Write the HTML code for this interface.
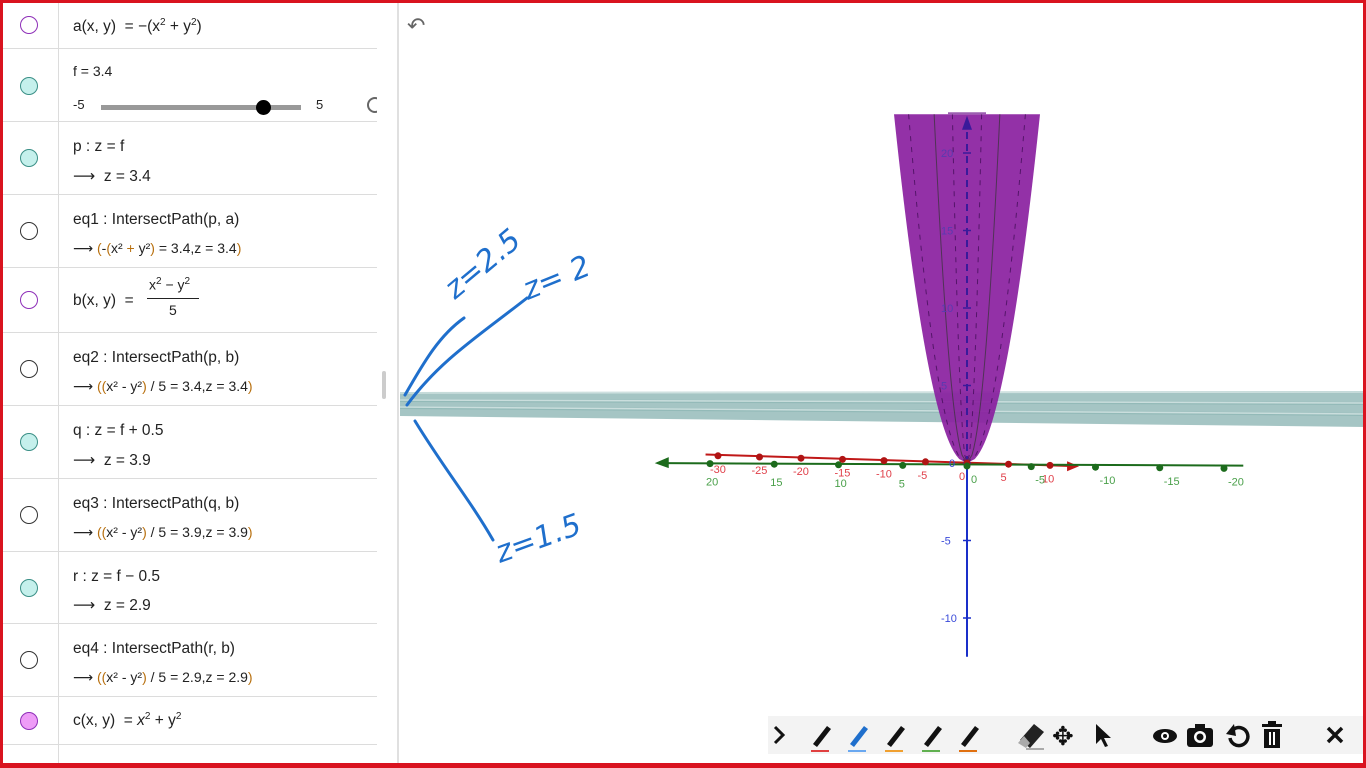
<!DOCTYPE html>
<html><head><meta charset="utf-8">
<style>
html,body{margin:0;padding:0;width:1366px;height:768px;overflow:hidden;background:#fff;font-family:"Liberation Sans","DejaVu Sans",sans-serif;}
#frame{position:absolute;left:0;top:0;width:1366px;height:768px;box-sizing:border-box;border:3px solid #d9131f;border-bottom-width:5px;z-index:5;pointer-events:none;}
#algebra{position:absolute;left:3px;top:3px;width:374px;height:760px;overflow:hidden;}
.row{position:absolute;left:0;width:374px;border-bottom:1px solid #dcdcdc;box-sizing:border-box;}
.iconcol{position:absolute;left:0;top:0;bottom:0;width:55px;border-right:1px solid #dcdcdc;}
.dot{position:absolute;left:17px;width:18px;height:18px;border-radius:50%;box-sizing:border-box;border:1.3px solid #333;}
.t{position:absolute;left:70px;font-size:15.5px;color:#222;white-space:nowrap;}
.o{color:#b8700f}
sup{font-size:10px;}
#divider{position:absolute;left:397px;top:3px;width:2px;height:760px;background:#e0e0e0;}
#graphics{position:absolute;left:0;top:0;}
#toolbar{position:absolute;left:768px;top:716px;width:596px;height:38px;background:#f3f3f3;}
</style></head><body>
<div id="frame"></div>
<div id="algebra">
 <div class="row" style="top:0;height:46px"><div class="iconcol"></div><div class="dot" style="top:13px;border-color:#8e2fb8"></div><div class="t" style="top:14px">a(x, y) &nbsp;= −(x<sup>2</sup> + y<sup>2</sup>)</div></div>
 <div class="row" style="top:46px;height:73px"><div class="iconcol"></div><div class="dot" style="top:28px;background:#c5f0ec;border-color:#3a8f86"></div><div class="t" style="top:14px;font-size:14px">f = 3.4</div>
  <div class="t" style="top:48px;font-size:13px">-5</div>
  <div style="position:absolute;left:98px;top:56px;width:200px;height:5px;background:#999"></div>
  <div style="position:absolute;left:253px;top:51px;width:15px;height:15px;border-radius:50%;background:#000"></div>
  <div class="t" style="top:48px;left:313px;font-size:13px">5</div>
  <div style="position:absolute;left:364px;top:48px;width:16px;height:16px;border-radius:50%;border:2px solid #666;box-sizing:border-box"></div></div>
 <div class="row" style="top:119px;height:73px"><div class="iconcol"></div><div class="dot" style="top:27px;background:#c5f0ec;border-color:#3a8f86"></div><div class="t" style="top:16px">p : z = f</div><div class="t" style="top:45px">⟶ &nbsp;z = 3.4</div></div>
 <div class="row" style="top:192px;height:73px"><div class="iconcol"></div><div class="dot" style="top:27px"></div><div class="t" style="top:16px">eq1 : IntersectPath(p, a)</div><div class="t" style="top:45px;font-size:14px">⟶ <span class="o">(</span>-<span class="o">(</span>x² <span class="o">+</span> y²<span class="o">)</span> = 3.4,z = 3.4<span class="o">)</span></div></div>
 <div class="row" style="top:265px;height:65px"><div class="iconcol"></div><div class="dot" style="top:23px;border-color:#8e2fb8"></div><div class="t" style="top:24px">b(x, y) &nbsp;=</div>
  <div class="t" style="left:146px;top:8px;font-size:14px">x<sup>2</sup> − y<sup>2</sup></div><div style="position:absolute;left:144px;top:30px;width:52px;height:1px;background:#222"></div><div class="t" style="left:166px;top:34px;font-size:14px">5</div></div>
 <div class="row" style="top:330px;height:73px"><div class="iconcol"></div><div class="dot" style="top:27px"></div><div class="t" style="top:16px">eq2 : IntersectPath(p, b)</div><div class="t" style="top:45px;font-size:14px">⟶ <span class="o">((</span>x² - y²<span class="o">)</span> / 5 = 3.4,z = 3.4<span class="o">)</span></div></div>
 <div class="row" style="top:403px;height:73px"><div class="iconcol"></div><div class="dot" style="top:27px;background:#c5f0ec;border-color:#3a8f86"></div><div class="t" style="top:16px">q : z = f + 0.5</div><div class="t" style="top:45px">⟶ &nbsp;z = 3.9</div></div>
 <div class="row" style="top:476px;height:73px"><div class="iconcol"></div><div class="dot" style="top:27px"></div><div class="t" style="top:16px">eq3 : IntersectPath(q, b)</div><div class="t" style="top:45px;font-size:14px">⟶ <span class="o">((</span>x² - y²<span class="o">)</span> / 5 = 3.9,z = 3.9<span class="o">)</span></div></div>
 <div class="row" style="top:549px;height:72px"><div class="iconcol"></div><div class="dot" style="top:27px;background:#c5f0ec;border-color:#3a8f86"></div><div class="t" style="top:16px">r : z = f − 0.5</div><div class="t" style="top:44px">⟶ &nbsp;z = 2.9</div></div>
 <div class="row" style="top:621px;height:73px"><div class="iconcol"></div><div class="dot" style="top:27px"></div><div class="t" style="top:16px">eq4 : IntersectPath(r, b)</div><div class="t" style="top:45px;font-size:14px">⟶ <span class="o">((</span>x² - y²<span class="o">)</span> / 5 = 2.9,z = 2.9<span class="o">)</span></div></div>
 <div class="row" style="top:694px;height:48px"><div class="iconcol"></div><div class="dot" style="top:15px;background:#ee9cf7;border-color:#8e2fb8"></div><div class="t" style="top:14px">c(x, y) &nbsp;= <i>x</i><sup>2</sup> + y<sup>2</sup></div></div>
 <div class="row" style="top:742px;height:30px;border:none"><div class="iconcol"></div></div>
</div>
<div style="position:absolute;left:382px;top:371px;width:4px;height:28px;border-radius:2px;background:#ccc"></div>
<div id="divider"></div>

<svg id="graphics" width="1366" height="768">
 <text x="407" y="33" font-size="22" fill="#666">↶</text>
 <g id="planes"></g>
 <g id="para"></g>
 <g id="axes"></g>
 <g id="ink" fill="none" stroke="#1f6fcc" stroke-width="3" stroke-linecap="round">
  <path d="M405 395 C425 360,440 335,464 318"/>
  <path d="M407 405 C440 360,480 335,527 298"/>
  <path d="M415 421 C445 470,470 500,493 540"/>
 </g>
 <g fill="#1f6fcc" font-family="'DejaVu Sans',sans-serif" font-style="italic">
  <text x="455" y="300" font-size="30" transform="rotate(-40 455 300)">z=2.5</text>
  <text x="528" y="300" font-size="30" transform="rotate(-22 528 300)">z= 2</text>
  <text x="500" y="563" font-size="30" transform="rotate(-20 500 563)">z=1.5</text>
 </g>
</svg>

<div id="toolbar">
 <svg width="596" height="38">
  <path d="M7 11 L15 19 L7 27" stroke="#111" stroke-width="3" fill="none"/>
  <g id="pens"></g>
  <g><path d="M252 24 L266 8 L276 16 L262 32 Z" fill="#222"/><path d="M250 27 L256 20 L262 27 L258 32 Z" fill="#aaa"/><rect x="258" y="32" width="18" height="2" fill="#aaa"/></g>
  <text x="284" y="29" font-size="26" fill="#111">✥</text>
  <path d="M328 8 L328 28 L333 23 L337 31 L340 30 L336 22 L343 22 Z" fill="#111"/>
  <g><ellipse cx="397" cy="20" rx="12" ry="7" fill="#111"/><circle cx="397" cy="20" r="4" fill="#fff"/><circle cx="397" cy="20" r="2" fill="#111"/></g>
  <g><rect x="419" y="12" width="26" height="19" rx="3" fill="#111"/><rect x="427" y="8" width="10" height="5" fill="#111"/><circle cx="432" cy="21" r="6" fill="#fff"/><circle cx="432" cy="21" r="3.5" fill="#111"/></g>
  <g><path d="M462 22 A9 9 0 1 0 466 13" stroke="#111" stroke-width="3.5" fill="none"/><path d="M458 18 L466 8 L468 20 Z" fill="#111"/></g>
  <g><rect x="494" y="8" width="20" height="3" fill="#111"/><rect x="500" y="5" width="8" height="3" fill="#111"/><path d="M496 13 H512 V32 H496 Z" fill="#111"/><rect x="501" y="16" width="2" height="13" fill="#fff"/><rect x="505" y="16" width="2" height="13" fill="#fff"/></g>
  <path d="M560 12 L574 26 M574 12 L560 26" stroke="#111" stroke-width="3.5"/>
 </svg>
</div>

<script>
const zTicks = [-10, -5, 0, 5, 10, 15, 20];
const xTicks = [-30, -25, -20, -15, -10, -5, 0, 5, 10];
const yTicks = [20, 15, 10, 5, 0, -5, -10, -15, -20];
const planeLevels = [3.9, 3.4, 2.9];
const SVGNS = "http://www.w3.org/2000/svg";
const ox = 967, oy = 463;
function zy(z){ return oy - z * 15.5; }
function xPos(v){ return [ox + v * 8.3, oy + v * 0.24]; }
function yPos(v){ return [ox - v * 12.85, oy - v * 0.12]; }
function mk(tag, attrs, parent){ const e=document.createElementNS(SVGNS,tag); for(const k in attrs) e.setAttribute(k,attrs[k]); parent.appendChild(e); return e; }

// planes
const pl = document.getElementById('planes');
planeLevels.forEach((lv)=>{
  const yl = 404 - (lv-3.4)*14;
  const yr = 409 - (lv-3.4)*22;
  const p = mk('path',{d:`M400 ${yl-5} L1366 ${yr-7} L1366 ${yr+7} L400 ${yl+5} Z`, fill:'#8fb6b5', opacity:0.8}, pl);
  
  
  mk('path',{d:`M400 ${yl-4} L1366 ${yr-6}`, stroke:'#e2eeed', 'stroke-width':1.5, opacity:0.7}, pl);
});

// paraboloid
const pa = document.getElementById('para');
const zTop = 22.5, halfW = 73;
function halfAt(z){ return halfW*Math.sqrt(z/zTop); }
let d = `M${ox-halfW} ${zy(zTop)}`;
for(let z=zTop; z>=0; z-=0.25){ d += ` L${ox-halfAt(z)} ${zy(z)}`; }
for(let z=0; z<=zTop; z+=0.25){ d += ` L${ox+halfAt(z)} ${zy(z)}`; }
d += ' Z';
const sf = mk('path',{d:d, fill:'#8a1fa0', opacity:0.92}, pa);


[[0.45,'#333','none'],[-0.45,'#333','none'],[0.8,'#3a0a50','5 6'],[-0.8,'#3a0a50','5 6'],[0.2,'#3a0a50','5 6'],[-0.2,'#3a0a50','5 6']].forEach(([f,c,da])=>{
  let dd=''; for(let z=zTop; z>=0.2; z-=0.5){ dd += (dd?' L':'M')+(ox+f*halfAt(z))+' '+zy(z); }
  dd += ` L${ox} ${oy}`;
  mk('path',{d:dd, stroke:c, 'stroke-width':1, fill:'none', 'stroke-dasharray':da, opacity:0.7}, pa);
});
mk('rect',{x:948,y:zy(zTop)-2,width:38,height:2,fill:'#9b5fb0'},pa);

// axes
const ax = document.getElementById('axes');
const xa = mk('line',{x1:xPos(-31.5)[0],y1:xPos(-31.5)[1]-1,x2:xPos(12.5)[0],y2:xPos(12.5)[1],stroke:'#c01818','stroke-width':2},ax);


mk('path',{d:`M${xPos(13.5)[0]} ${xPos(13.5)[1]} l-12 -5 l0 10 z`, fill:'#c01818'},ax);
const ya = mk('line',{x1:yPos(23.5)[0],y1:yPos(23.5)[1]+3,x2:yPos(-21.5)[0],y2:yPos(-21.5)[1],stroke:'#1c6b1c','stroke-width':2},ax);


mk('path',{d:`M${yPos(24.3)[0]} ${yPos(24.3)[1]+3} l14 -6 l0 11 z`, fill:'#1c6b1c'},ax);
const za = mk('line',{x1:ox,y1:zy(-12.5),x2:ox,y2:oy,stroke:'#1a2fc9','stroke-width':2},ax);


mk('line',{x1:ox,y1:oy,x2:ox,y2:zy(21.5),stroke:'#3a1a9a','stroke-width':2,'stroke-dasharray':'7 5'},ax);
mk('path',{d:`M${ox} ${zy(22.4)} l-5 14 l10 0 z`, fill:'#3a1a9a'},ax);

zTicks.forEach(v=>{
  const y = zy(v);
  const col = v>0 ? '#3a1a9a' : '#1a2fc9';
  mk('line',{x1:ox-4,y1:y,x2:ox+4,y2:y,stroke:col,'stroke-width':1.5},ax);
  const t = mk('text',{x: v===0? ox-18 : ox-26, y:y+4,'font-size':11,fill: v>0 ? '#5a3ab0':'#3a4ad9'},ax);
  t.textContent = v===0 ? '0' : (v<0 ? '-'+Math.abs(v) : String(v));
  
  
});
xTicks.forEach(v=>{
  const [x,y] = xPos(v);
  const c = mk('circle',{cx:x,cy:y,r:3.5,fill:'#b01414'},ax);
  
  
  const t = mk('text',{x:x-8,y:y+17,'font-size':11,fill:'#e0404a'},ax);
  t.textContent = v<0 ? '-'+Math.abs(v) : String(v);
  
  
});
yTicks.forEach(v=>{
  const [x,y] = yPos(v);
  const c = mk('circle',{cx:x,cy:y+3,r:3.5,fill:'#1c6b1c'},ax);
  
  
  const t = mk('text',{x:v>0? x-4 : x+4,y:y+(v>0?25:20),'font-size':11,fill:'#4aa04a'},ax);
  t.textContent = v<0 ? '-'+Math.abs(v) : String(v);
  
  
});

const pens = document.getElementById('pens');
const penCols = ['#e04040','#6aa8f0','#f0a030','#60b050','#e07010'];
penCols.forEach((c,i)=>{
  const x = 45 + i*37;
  const g = mk('g',{},pens);
  
  
  mk('path',{d:`M${x} 28 L${x+14} 10 L${x+18} 13 L${x+4} 31 Z`, fill: i===1?'#1f6fcc':'#111'},g);
  mk('rect',{x:x-2,y:34,width:18,height:2,fill:c},g);
});
</script>
</body></html>
